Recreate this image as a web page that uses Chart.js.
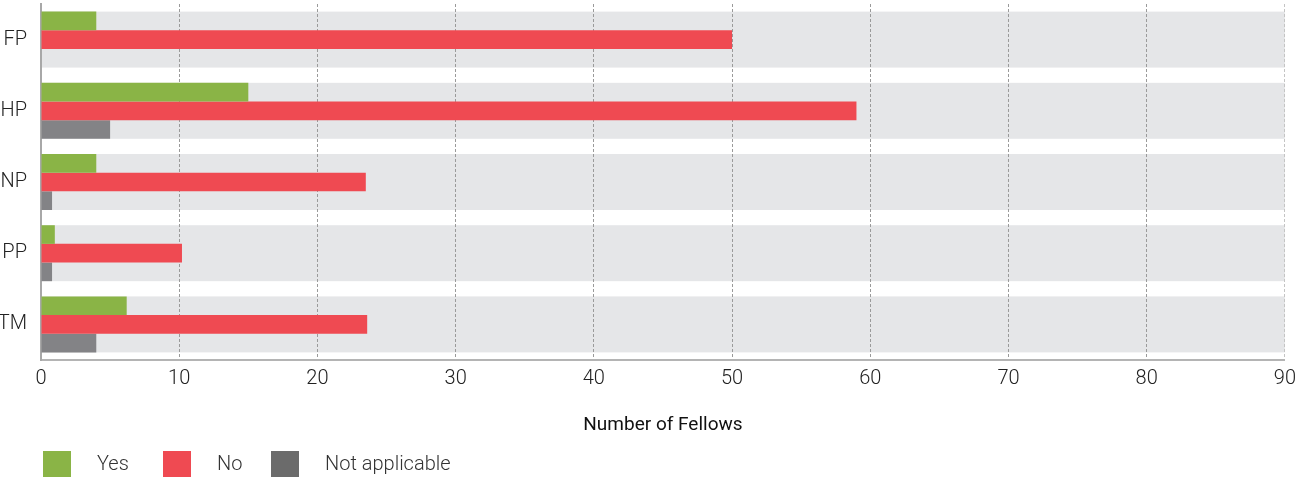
<!DOCTYPE html>
<html>
<head>
<meta charset="utf-8">
<script src="https://cdn.jsdelivr.net/npm/chart.js@4.4.1/dist/chart.umd.min.js"></script>
<style>
  body { margin: 0; background: #fff; }
  #wrap { position: relative; width: 1303px; height: 477px; }
  #chart-box { position: absolute; left: 0; top: 0; width: 1303px; height: 477px; }
  #legend { position: absolute; left: 0; top: 451px; height: 26px; }
  .item { position: absolute; top: 0; height: 26px; }
  .swatch { position: absolute; left: 0; top: 0; width: 28px; height: 26px; }
  .label { position: absolute; top: 0; line-height: 28px; white-space: nowrap;
           font: 300 20px Roboto, 'DejaVu Sans Condensed', sans-serif; color: #333; }
</style>
</head>
<body>
<div id="wrap">
  <div id="chart-box"><canvas id="fellowsChart"></canvas></div>
  <div id="legend"></div>
</div>
<script>
const categories = ['FP', 'HP', 'NP', 'PP', 'TM'];
const yesValues = [4, 15, 4, 1, 6.2];
const noValues = [50, 59, 23.5, 10.2, 23.6];
const naValues = [0, 5, 0.8, 0.8, 4];
const xTicks = [0, 10, 20, 30, 40, 50, 60, 70, 80, 90];

const FONT = "Roboto, 'DejaVu Sans Condensed', sans-serif";
const BAND_PCT = 0.786;

// grey band behind each category group
const bandPlugin = {
    id: 'bands',
    beforeDraw(chart) {
        const { ctx, chartArea, scales } = chart;
        const y = scales.y;
        const step = y.height / categories.length;
        const h = step * BAND_PCT;
        ctx.save();
        ctx.fillStyle = '#e5e6e8';
        categories.forEach((c, i) => {
            const cy = y.getPixelForValue(i);
            ctx.fillRect(chartArea.left, cy - h / 2, chartArea.right - chartArea.left, h);
        });
        ctx.restore();
    }
};

const series = [
    { label: 'Yes', data: yesValues, color: '#8ab446', legend: '#8ab446' },
    { label: 'No', data: noValues, color: '#ef4a52', legend: '#ef4a52' },
    { label: 'Not applicable', data: naValues, color: '#838386', legend: '#6b6b6b' }
];

const ctx = document.getElementById('fellowsChart').getContext('2d');
new Chart(ctx, {
    type: 'bar',
    data: {
        labels: categories,
        datasets: series.map(s => ({
            label: s.label,
            data: s.data,
            backgroundColor: s.color,
            borderWidth: 0,
            categoryPercentage: BAND_PCT,
            barPercentage: 1.0
        }))
    },
    options: {
        indexAxis: 'y',
        responsive: true,
        maintainAspectRatio: false,
        animation: false,
        layout: { padding: { top: 4, right: 18, bottom: 0, left: 0 } },
        plugins: {
            legend: { display: false },
            tooltip: { enabled: false }
        },
        scales: {
            x: {
                min: 0,
                max: 90,
                afterFit(scale) { scale.height = 117; },
                afterBuildTicks(scale) { scale.ticks = xTicks.map(v => ({ value: v })); },
                grid: {
                    drawTicks: false,
                    color: c => c.index === 0 ? 'rgba(0,0,0,0)' : (c.index === 9 ? '#c4c4c4' : '#9a9a9a'),
                    lineWidth: 1
                },
                border: { display: true, color: '#b4b4b4', width: 2, dash: [3, 2] },
                ticks: {
                    color: '#222',
                    padding: 7,
                    font: { family: FONT, size: 20, weight: 300 }
                },
                title: {
                    display: true,
                    text: 'Number of Fellows',
                    color: '#111',
                    padding: { top: 0, bottom: 40 },
                    font: { family: FONT, size: 19 }
                }
            },
            y: {
                afterFit(scale) {
                    scale.width = 41;
                    scale.paddingTop = 0;
                    scale.paddingBottom = 0;
                },
                grid: { display: false, drawTicks: false },
                border: { display: true, color: '#a8a8a8', width: 2 },
                ticks: {
                    color: '#222',
                    padding: 14,
                    font: { family: FONT, size: 20, weight: 300 }
                }
            }
        }
    },
    plugins: [bandPlugin]
});

// legend under the chart
const legendEl = document.getElementById('legend');
const legendX = [43, 163, 271];
series.forEach((s, i) => {
    const item = document.createElement('div');
    item.className = 'item';
    item.style.left = legendX[i] + 'px';
    item.innerHTML = `<div class="swatch" style="background:${s.legend}"></div>` +
        `<div class="label" style="left:54px">${s.label}</div>`;
    legendEl.appendChild(item);
});
</script>
</body>
</html>
